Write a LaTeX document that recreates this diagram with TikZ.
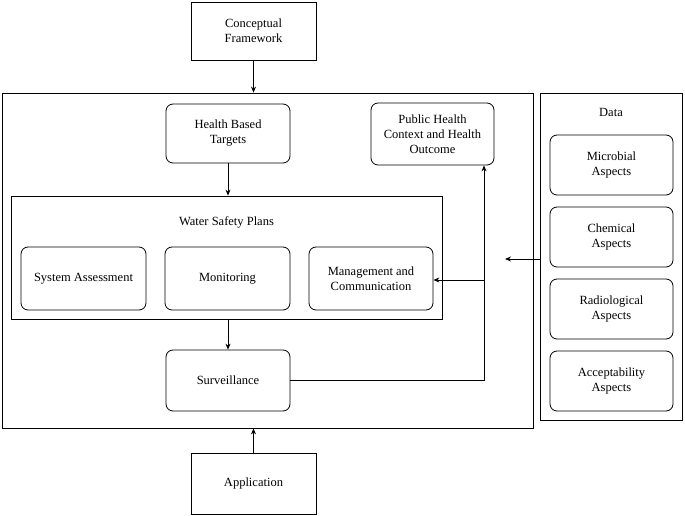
\documentclass[tikz,border=0pt]{standalone}
\usepackage{fontspec}
\setmainfont{Liberation Serif}
\usetikzlibrary{arrows.meta}
\begin{document}
\begin{tikzpicture}[x=1pt,y=-1pt,
  sq/.style={draw,line width=0.8pt,align=center,font=\fontsize{12.5}{15}\selectfont,inner sep=1pt},
  rd/.style={sq,rounded corners=7pt},
  ar/.style={-{Stealth[length=6pt,width=5pt]},line width=0.8pt}]
\useasboundingbox (0,0) rectangle (685,516);
\node[sq,minimum width=125,minimum height=58] (cf) at (253.5,31) {Conceptual\\Framework};
\node[draw,line width=0.8pt,minimum width=531,minimum height=335] (big) at (267.5,260.5) {};
\node[rd,minimum width=124,minimum height=59] (hbt) at (228,133.5) {Health Based\\Targets};
\node[rd,minimum width=123,minimum height=62] (ph) at (432.5,134) {Public Health\\Context and Health\\Outcome};
\node[draw,line width=0.8pt,minimum width=431,minimum height=123] (wsp) at (226.5,257.5) {};
\node[font=\fontsize{12.5}{15}\selectfont] (wspt) at (226.5,222) {Water Safety Plans};
\node[rd,minimum width=125,minimum height=63] (sa) at (83.5,278.5) {System Assessment};
\node[rd,minimum width=125,minimum height=63] (mo) at (227.5,278.5) {Monitoring};
\node[rd,minimum width=124,minimum height=63] (mc) at (371,278.5) {Management and\\Communication};
\node[rd,minimum width=124,minimum height=61] (sv) at (228,380.5) {Surveillance};
\node[sq,minimum width=125,minimum height=61] (ap) at (253.5,483.5) {Application};
\node[draw,line width=0.8pt,minimum width=142,minimum height=327] (data) at (611,256.5) {};
\node[font=\fontsize{12.5}{15}\selectfont] (datat) at (611,112) {Data};
\node[rd,minimum width=123,minimum height=60] (mi) at (611.5,165) {Microbial\\Aspects};
\node[rd,minimum width=123,minimum height=60] (ch) at (611.5,237) {Chemical\\Aspects};
\node[rd,minimum width=123,minimum height=60] (ra) at (611.5,309) {Radiological\\Aspects};
\node[rd,minimum width=123,minimum height=60] (ac) at (611.5,381) {Acceptability\\Aspects};
\coordinate (dend) at (505,259);
\coordinate (corner) at (484,380);
\coordinate (branch) at (484,280);
\draw[ar] (cf.south) -- (big.north -| cf.south);
\draw[ar] (ap.north) -- (big.south -| ap.north);
\draw[ar] (hbt.south) -- (wsp.north -| hbt.south);
\draw[ar] (wsp.south -| sv.north) -- (sv.north);
\draw[ar] (data.west |- dend) -- (dend);
\draw[ar] (sv.east |- corner) -- (corner) -- (ph.south -| corner);
\draw[ar] (branch) -- (mc.east |- branch);
\end{tikzpicture}
\end{document}
